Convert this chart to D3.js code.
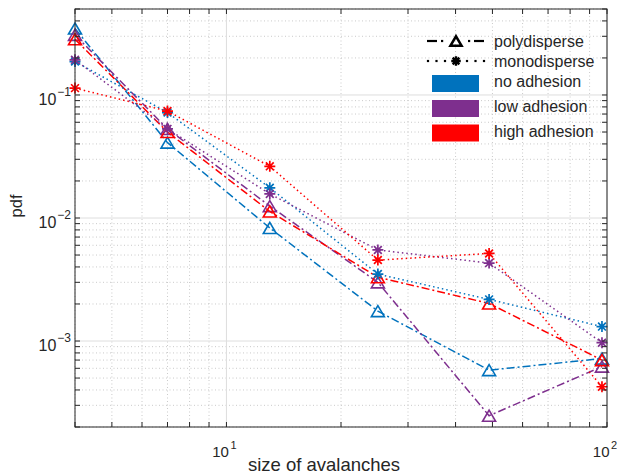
<!DOCTYPE html>
<html>
<head>
<meta charset="utf-8">
<script src="https://cdn.jsdelivr.net/npm/d3@7"></script>
<style>
  body { margin: 0; background: #fff; }
  svg { display: block; }
  text { font-family: "Liberation Sans", Arial, Helvetica, sans-serif; fill: #262626; }
</style>
</head>
<body>
<svg id="chart" width="617" height="474"></svg>
<script>
// ---------- data ----------
const sizes = [4, 7, 13, 25, 49, 97];
const polyNo   = [0.347, 0.041, 0.0083, 0.00175, 0.00058, 0.00072];
const polyLow  = [0.308, 0.053, 0.0125, 0.0030, 0.000247, 0.00062];
const polyHigh = [0.284, 0.050, 0.0113, 0.0033, 0.00202, 0.00070];
const monoNo   = [0.187, 0.072, 0.0176, 0.0035, 0.00218, 0.00131];
const monoLow  = [0.193, 0.053, 0.0157, 0.0055, 0.0043, 0.00097];
const monoHigh = [0.1137, 0.074, 0.0263, 0.00455, 0.00515, 0.000425];
const xTicks = [10, 100];
const yTicks = [1e-3, 1e-2, 1e-1];
const legendStyles = ["polydisperse", "monodisperse"];
const legendColors = ["no adhesion", "low adhesion", "high adhesion"];
const colors = ["#0072BD", "#7E2F8E", "#FF0000"];

// ---------- layout ----------
const svg = d3.select("#chart");
const L = 75, R = 607, T = 9, B = 427;
const x = d3.scaleLog().domain([4, 100]).range([L, R]);
const y = d3.scaleLog().domain([2e-4, 0.5]).range([B, T]);

const xMinor = [];
[1, 10].forEach(d => { for (let k = 2; k <= 9; k++) { const v = k * d; if (v >= 4 && v < 100) xMinor.push(v); } });
const yMinor = [];
[1e-4, 1e-3, 1e-2, 1e-1].forEach(d => { for (let k = 2; k <= 9; k++) { const v = k * d; if (v >= 2e-4 * 0.999 && v <= 0.5 * 1.001) yMinor.push(v); } });

const g = svg.append("g");

// minor grid (dotted)
g.selectAll(".xmg").data(xMinor).enter().append("line")
  .attr("x1", d => x(d)).attr("x2", d => x(d)).attr("y1", T).attr("y2", B)
  .attr("stroke", "#bdbdbd").attr("stroke-width", 0.8).attr("stroke-dasharray", "1,2.5");
g.selectAll(".ymg").data(yMinor).enter().append("line")
  .attr("y1", d => y(d)).attr("y2", d => y(d)).attr("x1", L).attr("x2", R)
  .attr("stroke", "#bdbdbd").attr("stroke-width", 0.8).attr("stroke-dasharray", "1,2.5");
// major grid
g.selectAll(".xg").data(xTicks).enter().append("line")
  .attr("x1", d => x(d)).attr("x2", d => x(d)).attr("y1", T).attr("y2", B)
  .attr("stroke", "#dedede").attr("stroke-width", 1);
g.selectAll(".yg").data(yTicks).enter().append("line")
  .attr("y1", d => y(d)).attr("y2", d => y(d)).attr("x1", L).attr("x2", R)
  .attr("stroke", "#dedede").attr("stroke-width", 1);

// ---------- series ----------
const line = d3.line().x((d, i) => x(sizes[i])).y(d => y(d));
const polySeries = [polyNo, polyLow, polyHigh];
const monoSeries = [monoNo, monoLow, monoHigh];

function triangle(sel, cx, cy, color, s, sw) {
  const h = s * 0.85, w = s;
  sel.append("path")
    .attr("d", `M${cx},${cy - h / 2}L${cx + w / 2},${cy + h / 2}L${cx - w / 2},${cy + h / 2}Z`)
    .attr("fill", "none").attr("stroke", color).attr("stroke-width", sw || 1.6).attr("stroke-linejoin", "miter");
}
function asterisk(sel, cx, cy, color, s, sw) {
  const r = s / 2, q = r * 0.7071;
  sel.append("path")
    .attr("d", `M${cx - r},${cy}H${cx + r}M${cx},${cy - r}V${cy + r}M${cx - q},${cy - q}L${cx + q},${cy + q}M${cx - q},${cy + q}L${cx + q},${cy - q}`)
    .attr("fill", "none").attr("stroke", color).attr("stroke-width", sw || 1.7);
}

const dataG = svg.append("g");
polySeries.forEach((s, k) => {
  dataG.append("path").datum(s).attr("d", line)
    .attr("fill", "none").attr("stroke", colors[k]).attr("stroke-width", 1.5)
    .attr("stroke-dasharray", "8,3,2,3");
  s.forEach((v, i) => triangle(dataG, x(sizes[i]), y(v), colors[k], 13));
});
monoSeries.forEach((s, k) => {
  dataG.append("path").datum(s).attr("d", line)
    .attr("fill", "none").attr("stroke", colors[k]).attr("stroke-width", 1.5)
    .attr("stroke-dasharray", "1.5,3");
  s.forEach((v, i) => asterisk(dataG, x(sizes[i]), y(v), colors[k], 11));
});

// ---------- axes box & ticks ----------
const ax = svg.append("g");
ax.append("rect").attr("x", L).attr("y", T).attr("width", R - L).attr("height", B - T)
  .attr("fill", "none").attr("stroke", "#262626").attr("stroke-width", 1);
const tl = 5;
const allX = xTicks.concat(xMinor), allY = yTicks.concat(yMinor);
allX.forEach(v => {
  ax.append("line").attr("x1", x(v)).attr("x2", x(v)).attr("y1", B).attr("y2", B - tl).attr("stroke", "#262626");
  ax.append("line").attr("x1", x(v)).attr("x2", x(v)).attr("y1", T).attr("y2", T + tl).attr("stroke", "#262626");
});
allY.forEach(v => {
  ax.append("line").attr("y1", y(v)).attr("y2", y(v)).attr("x1", L).attr("x2", L + tl).attr("stroke", "#262626");
  ax.append("line").attr("y1", y(v)).attr("y2", y(v)).attr("x1", R).attr("x2", R - tl).attr("stroke", "#262626");
});

// tick labels
function expo(v) { return Math.round(Math.log10(v)).toString().replace("-", "\u2212"); }
xTicks.forEach(v => {
  const t = ax.append("text").attr("x", x(v) - 2).attr("y", 457).attr("font-size", 15).attr("text-anchor", "middle");
  t.append("tspan").text("10");
  t.append("tspan").attr("dy", -8.5).attr("font-size", 11).attr("dx", 1.5).text(expo(v));
});
yTicks.forEach(v => {
  const t = ax.append("text").attr("x", 71).attr("y", y(v) + 10).attr("font-size", 16).attr("text-anchor", "end");
  t.append("tspan").text("10");
  t.append("tspan").attr("dy", -9).attr("font-size", 12).attr("dx", 1).text(expo(v));
});

// axis labels
svg.append("text").attr("x", 324).attr("y", 471).attr("text-anchor", "middle").attr("font-size", 18.5)
  .text("size of avalanches");
svg.append("text").attr("transform", "translate(22,206) rotate(-90)").attr("text-anchor", "middle").attr("font-size", 16.5)
  .text("pdf");

// ---------- legend ----------
const lg = svg.append("g");
const rowsY = [41, 61];
// polydisperse sample: dash, dot, marker, dot, dash
lg.append("line").attr("x1", 427).attr("x2", 437).attr("y1", rowsY[0]).attr("y2", rowsY[0]).attr("stroke", "#000").attr("stroke-width", 2.2);
lg.append("line").attr("x1", 474).attr("x2", 484).attr("y1", rowsY[0]).attr("y2", rowsY[0]).attr("stroke", "#000").attr("stroke-width", 2.2);
[442, 469].forEach(px => lg.append("rect").attr("x", px - 1).attr("y", rowsY[0] - 1.1).attr("width", 2.2).attr("height", 2.2).attr("fill", "#000"));
triangle(lg, 456, rowsY[0], "#000", 11, 2.6);
// monodisperse sample: dots, marker, dots
[428, 436.5, 445, 467, 475.5, 484].forEach(px => lg.append("rect").attr("x", px - 1.1).attr("y", rowsY[1] - 1.1).attr("width", 2.2).attr("height", 2.2).attr("fill", "#000"));
asterisk(lg, 456, rowsY[1], "#000", 9.5, 2.4);
legendStyles.forEach((s, i) => {
  lg.append("text").attr("x", 494).attr("y", rowsY[i] + 6).attr("font-size", 16).text(s);
});
const patchY = [75, 100, 124.5];
legendColors.forEach((s, i) => {
  lg.append("rect").attr("x", 432).attr("y", patchY[i]).attr("width", 47).attr("height", 17).attr("fill", colors[i]);
  lg.append("text").attr("x", 494).attr("y", patchY[i] + 12).attr("font-size", 16).text(s);
});
</script>
</body>
</html>
